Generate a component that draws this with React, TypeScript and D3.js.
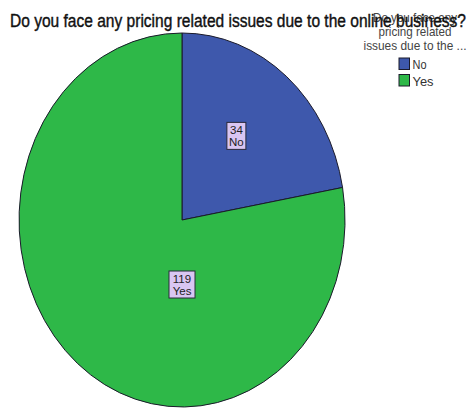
import * as d3 from "d3";

const categories = ["No", "Yes"];
const counts = [34, 119];
const colors = ["#3e58ac", "#2eb848"];
const title = "Do you face any pricing related issues due to the online business?";
const legendTitle = ["Do you face any", "pricing related", "issues due to the ..."];

const W = 472;
const H = 409;

export default function App() {
  const cx = 182;
  const cy = 220;
  const rx = 163;
  const ry = 187;

  const data = categories.map((c, i) => ({ label: c, value: counts[i]!, color: colors[i]! }));
  const pie = d3.pie<(typeof data)[number]>().sort(null).value((d) => d.value);
  const arcs = pie(data);
  const arc = d3.arc<d3.PieArcDatum<(typeof data)[number]>>().innerRadius(0).outerRadius(1);

  return (
    <div style={{ position: "fixed", left: 0, top: 0 }}>
      <svg width={W} height={H} style={{ display: "block", background: "#fff" }}>
        {/* slices, drawn on a unit circle then stretched to an ellipse */}
        <g transform={`translate(${cx},${cy}) scale(${rx},${ry})`}>
          {arcs.map((a) => (
            <path
              key={a.data.label}
              d={arc(a) ?? ""}
              fill={a.data.color}
              stroke="#1a1a2a"
              strokeWidth={1}
              vectorEffect="non-scaling-stroke"
            />
          ))}
        </g>

        {/* data labels */}
        {arcs.map((a) => {
          const span = a.endAngle - a.startAngle;
          const ang = span > Math.PI ? Math.PI : (a.startAngle + a.endAngle) / 2 - 0.06;
          const f = span > Math.PI ? 0.345 : 0.56;
          const x = cx + Math.sin(ang) * rx * f;
          const y = cy - Math.cos(ang) * ry * f;
          const txt = String(a.data.value);
          const bw = Math.max(txt.length, a.data.label.length) * 7 + 5;
          const bh = 27;
          return (
            <g key={a.data.label} transform={`translate(${x},${y})`}>
              <rect x={-bw / 2} y={-bh / 2} width={bw} height={bh} fill="#d9c6f2" stroke="#2a2a3a" strokeWidth={1} />
              <text y={-2} textAnchor="middle" fontFamily="Liberation Sans, Arial, sans-serif" fontSize={11.5} fill="#222">
                {txt}
              </text>
              <text y={10} textAnchor="middle" fontFamily="Liberation Sans, Arial, sans-serif" fontSize={11.5} fill="#222">
                {a.data.label}
              </text>
            </g>
          );
        })}

        {/* legend title (overlaps chart title as in source) */}
        {legendTitle.map((t, i) => (
          <text
            key={t}
            x={415}
            y={22 + i * 14}
            textAnchor="middle"
            fontFamily="Liberation Sans, Arial, sans-serif"
            fontSize={13}
            fill="#444"
            textLength={i === 0 ? 84 : i === 1 ? 73 : 103}
            lengthAdjust="spacingAndGlyphs"
          >
            {t}
          </text>
        ))}

        {/* chart title */}
        <text
          x={10}
          y={27}
          fontFamily="Liberation Sans, Arial, sans-serif"
          fontSize={17.5}
          fill="#111"
          stroke="#111"
          strokeWidth={0.4}
          textLength={456}
          lengthAdjust="spacingAndGlyphs"
        >
          {title}
        </text>

        {/* legend items */}
        {data.map((d, i) => (
          <g key={d.label} transform={`translate(399,${58 + i * 16.5})`}>
            <rect width={10.5} height={11.5} fill={d.color} stroke="#1a1a2a" strokeWidth={1} />
            <text
              x={13.5}
              y={11}
              fontFamily="Liberation Sans, Arial, sans-serif"
              fontSize={13.5}
              fill="#333"
              textLength={d.label.length * 7}
              lengthAdjust="spacingAndGlyphs"
            >
              {d.label}
            </text>
          </g>
        ))}
      </svg>
    </div>
  );
}
